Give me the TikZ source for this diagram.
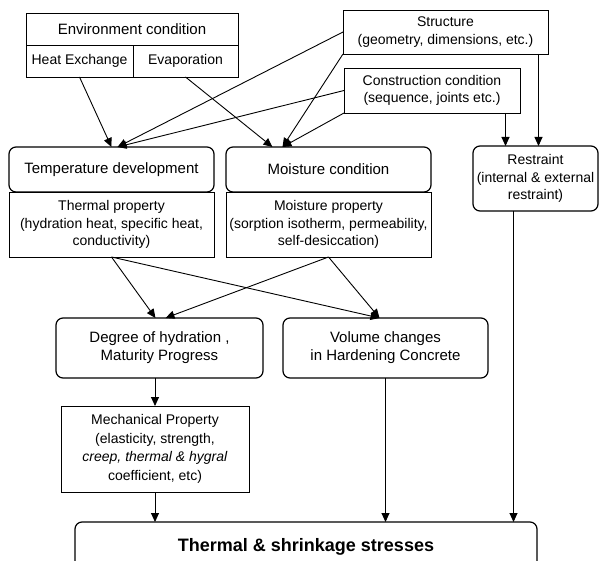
\documentclass[tikz,border=0pt]{standalone}
\usepackage{fontspec}
\setmainfont{Liberation Sans}
\usetikzlibrary{positioning,arrows.meta}

\begin{document}
\begin{tikzpicture}[x=1pt,y=-1pt,node distance=0pt,outer sep=0pt,inner sep=2pt,line width=0.9pt,
        font=\fontsize{14}{17.5}\selectfont]
        \tikzset{field/.style={align=center,shape=rectangle,draw,minimum width=205pt,minimum height=45pt}}
        \tikzset{roundfield/.style={field,rounded corners=7pt,line width=1.2pt}}
        \tikzset{cell/.style={align=center,shape=rectangle,draw,minimum height=32pt}}
        \tikzset{link/.style={-{Triangle[length=9pt,width=8pt]}}}
        \useasboundingbox (0,0) rectangle (600,561);

        % inputs
        \node [cell,minimum width=212pt,font=\fontsize{15}{18}\selectfont] (env) at (132,29) {Environment condition};
        \node [cell,minimum width=107pt,anchor=north west] (heat) at (env.south west) {Heat Exchange};
        \node [cell,minimum width=105pt,right=of heat] (evap) {Evaporation};
        \node [field,minimum height=44pt] (struct) at (445.5,32) {Structure\\(geometry, dimensions, etc.)};
        \node [field,minimum width=176pt] (constr) at (432,90.5) {Construction condition\\(sequence, joints etc.)};

        % conditions and properties
        \node [roundfield,font=\fontsize{15}{18}\selectfont] (temp) at (111.5,169.5) {Temperature development};
        \node [field,minimum height=65pt,below=of temp] (thermal) {Thermal property\\(hydration heat, specific heat,\\conductivity)};
        \node [roundfield,font=\fontsize{15}{18}\selectfont] (moist) at (328.5,169.5) {Moisture condition};
        \node [field,minimum height=65pt,below=of moist] (moist-prop) {Moisture property\\(sorption isotherm, permeability,\\self-desiccation)};
        \node [roundfield,minimum width=125pt,minimum height=65pt,inner sep=0pt] (restraint) at (535.5,178.5) {Restraint\\(internal \& external\\restraint)};

        % results
        \node [roundfield,minimum width=207pt,minimum height=60pt,font=\fontsize{15}{18}\selectfont] (hydration) at (159.5,348) {Degree of hydration ,\\Maturity Progress};
        \node [roundfield,minimum height=60pt,font=\fontsize{15}{18}\selectfont] (volume) at (385.5,348) {Volume changes\\in Hardening Concrete};
        \node [field,minimum width=188pt,minimum height=86pt,font=\fontsize{14}{18.5}\selectfont] (mech) at (155,449) {Mechanical Property\\(elasticity, strength,\\\textit{creep, thermal \& hygral}\\coefficient, etc)};
        \node [roundfield,minimum width=462pt,minimum height=50pt,font=\fontsize{18}{21}\selectfont\bfseries] (stress) at (306,547) {Thermal \& shrinkage stresses};

        % links
        \draw [link] (heat.south) -- (temp.north);
        \draw [link] (struct.west) -- ([xshift=6pt]temp.north);
        \draw [link] (constr.west) -- ([xshift=6pt]temp.north);
        \draw [link] (evap.south) -- ([xshift=-56pt]moist.north);
        \draw [link] (struct.south west) -- ([xshift=-46pt]moist.north);
        \draw [link] (constr.south west) -- ([xshift=-46pt]moist.north);
        \draw [link] ([xshift=-30pt]restraint.north |- constr.south) -- ([xshift=-30pt]restraint.north);
        \draw [link] ([xshift=3pt]restraint.north |- struct.south) -- ([xshift=3pt]restraint.north);
        \draw [link] (thermal.south) -- ([xshift=-4pt]hydration.north);
        \draw [link] (moist-prop.south) -- ([xshift=6pt]hydration.north);
        \draw [link] (thermal.south) -- ([xshift=-6pt]volume.north);
        \draw [link] (moist-prop.south) -- ([xshift=-6pt]volume.north);
        \draw [link] (mech.north |- hydration.south) -- (mech.north);
        \draw [link] (mech.south) -- (mech.south |- stress.north);
        \draw [link] (volume.south) -- (volume.south |- stress.north);
        \draw [link] ([xshift=-22pt]restraint.south) -- ([xshift=-22pt]restraint.south |- stress.north);
\end{tikzpicture}
\end{document}
